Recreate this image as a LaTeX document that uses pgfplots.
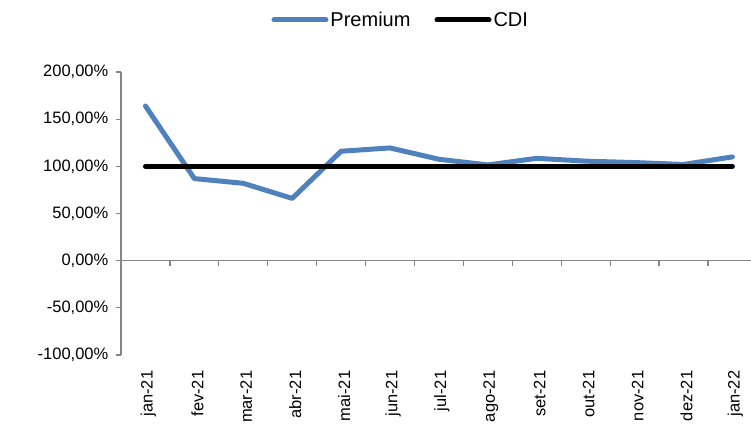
\documentclass[border=0pt]{standalone}
\usepackage{pgfplots}
\pgfplotsset{compat=1.18}
\usepackage{fontspec}
\setmainfont{Liberation Sans}
\definecolor{premblue}{RGB}{79,129,189}
\definecolor{axgray}{RGB}{134,134,134}
\begin{document}
\begin{tikzpicture}
\begin{axis}[
  scale only axis,
  width=630pt, height=283pt,
  xmin=-0.5, xmax=12.38,
  ymin=-100, ymax=200,
  axis y line*=left,
  axis x line*=bottom,
  x axis line style={draw=none},
  y axis line style={draw=axgray, line width=1.2pt},
  ytick={-100,-50,0,50,100,150,200},
  yticklabels={{-100,00\%},{-50,00\%},{0,00\%},{50,00\%},{100,00\%},{150,00\%},{200,00\%}},
  ytick style={draw=axgray, line width=1.2pt},
  tick align=outside,
  major tick length=4.5pt,
  yticklabel style={font=\fontsize{16.5}{19}\selectfont, inner sep=0pt, xshift=-8pt},
  xtick={0,1,2,3,4,5,6,7,8,9,10,11,12},
  xticklabels={jan-21,fev-21,mar-21,abr-21,mai-21,jun-21,jul-21,ago-21,set-21,out-21,nov-21,dez-21,jan-22},
  x tick style={draw=none},
  xticklabel style={font=\fontsize{16.5}{19}\selectfont, rotate=90, anchor=east, inner sep=0pt, xshift=-11pt, yshift=-3pt},
  clip=false,
  legend style={at={(0.444,1.184)}, anchor=center, draw=none, fill=none,
    font=\fontsize{20}{24}\selectfont, legend columns=2,
    /tikz/every even column/.append style={column sep=22pt},
    inner sep=0pt},
  legend image code/.code={\draw[#1, line cap=round] (0pt,0pt) -- (52pt,0pt);},
]
\draw[axgray, line width=1.2pt] (axis cs:-0.5,0) -- (axis cs:12.38,0);
\pgfplotsinvokeforeach{0.5,1.5,2.5,3.5,4.5,5.5,6.5,7.5,8.5,9.5,10.5,11.5}{
  \draw[axgray, line width=1.2pt] (axis cs:#1,0) -- ++(0pt,-5.5pt);
}
\addplot[premblue, line width=5pt, line cap=round, line join=round] coordinates {
(0,164) (1,87) (2,82) (3,66) (4,116) (5,119.5) (6,107.5) (7,101.5) (8,108.5) (9,105.5) (10,104) (11,102) (12,110)
};
\addlegendentry{Premium}
\addplot[black, line width=5pt, line cap=round] coordinates {
(0,100) (1,100) (2,100) (3,100) (4,100) (5,100) (6,100) (7,100) (8,100) (9,100) (10,100) (11,100) (12,100)
};
\addlegendentry{CDI}
\end{axis}
\pgfresetboundingbox
\useasboundingbox (-121pt,-68pt) rectangle (630pt,355pt);
\end{tikzpicture}
\end{document}
